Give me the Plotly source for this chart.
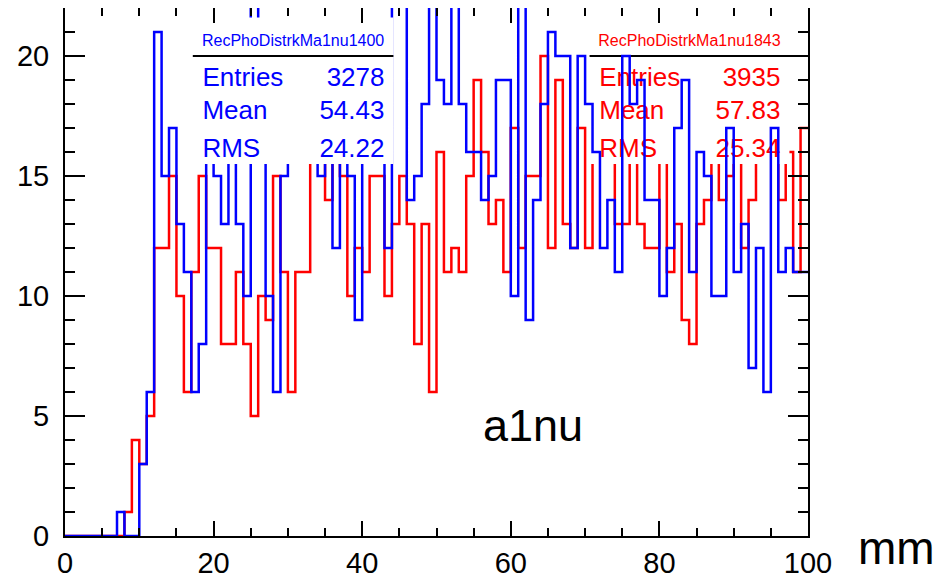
import plotly.graph_objects as go

# bin edges 0..100, 100 bins of width 1
bin_edges = list(range(0, 101))

# blue: RecPhoDistrkMa1nu1400 (bins hidden by the stats box estimated)
blue_counts = [
    0, 0, 0, 0, 0, 0, 0, 1, 0, 0,        # 0-9
    3, 6, 21, 15, 17, 13, 11, 6, 8, 17,   # 10-19
    15, 13, 16, 13, 10, 23, 18, 10, 6, 15,  # 20-29
    17, 16, 18, 17, 15, 16, 12, 17, 15, 9,  # 30-39
    18, 16, 17, 12, 23, 23, 14, 15, 18, 23, # 40-49
    19, 18, 23, 18, 16, 16, 14, 15, 19, 19, # 50-59
    10, 23, 9, 14, 18, 21, 20, 20, 12, 20,  # 60-69
    18, 16, 12, 14, 11, 20, 18, 19, 14, 14, # 70-79
    10, 12, 17, 19, 11, 16, 15, 10, 10, 17, # 80-89
    11, 13, 7, 12, 6, 17, 11, 12, 11, 11,   # 90-99
]

# red: RecPhoDistrkMa1nu1843
red_counts = [
    0, 0, 0, 0, 0, 0, 0, 0, 1, 4,         # 0-9
    3, 5, 12, 12, 15, 10, 6, 11, 15, 12,  # 10-19
    12, 8, 8, 11, 8, 5, 10, 9, 15, 11,    # 20-29
    6, 11, 11, 16, 17, 14, 16, 15, 10, 12, # 30-39
    11, 15, 15, 10, 13, 15, 13, 8, 13, 6,  # 40-49
    16, 11, 12, 11, 15, 19, 16, 13, 14, 11, # 50-59
    17, 12, 15, 15, 20, 12, 19, 13, 12, 17, # 60-69
    12, 16, 17, 16, 13, 13, 17, 13, 12, 12, # 70-79
    16, 11, 13, 9, 8, 13, 14, 16, 14, 15,  # 80-89
    16, 12, 14, 16, 17, 16, 14, 16, 11, 17, # 90-99
]

blue_stats_title = "RecPhoDistrkMa1nu1400"
red_stats_title = "RecPhoDistrkMa1nu1843"
stat_names = ["Entries", "Mean", "RMS"]
blue_stat_values = ["3278", "54.43", "24.22"]
red_stat_values = ["3935", "57.83", "25.34"]

x_ticks = [0, 20, 40, 60, 80, 100]
y_ticks = [0, 5, 10, 15, 20]

BLUE = "#0000ff"
RED = "#ff0000"
FONT = "Liberation Sans, Arial, sans-serif"


def step(counts):
    return bin_edges, counts + [counts[-1]]


def stats_box(x0, x1, title, values, color, name):
    y0, y1, yline = 15.5, 21.6, 20.0
    rows_y = [19.03, 17.65, 16.07]
    tr = []
    tr.append(go.Scatter(x=[x0, x1, x1, x0, x0], y=[y0, y0, y1, y1, y0],
                         fill="toself", fillcolor="white", mode="none",
                         hoverinfo="skip", showlegend=False, name=name + "box"))
    tr.append(go.Scatter(x=[x0, x1], y=[yline, yline], mode="lines",
                         line=dict(color="black", width=2), hoverinfo="skip",
                         showlegend=False))
    tr.append(go.Scatter(x=[(x0 + x1) / 2], y=[20.6], mode="text", text=[title],
                         textposition="middle center",
                         textfont=dict(family=FONT, size=16, color=color),
                         hoverinfo="skip", showlegend=False))
    tr.append(go.Scatter(x=[x0 + 1.3] * 3, y=rows_y, mode="text", text=stat_names,
                         textposition="middle right",
                         textfont=dict(family=FONT, size=26, color=color),
                         hoverinfo="skip", showlegend=False))
    tr.append(go.Scatter(x=[x1 - 1.2] * 3, y=rows_y, mode="text", text=values,
                         textposition="middle left",
                         textfont=dict(family=FONT, size=26, color=color),
                         hoverinfo="skip", showlegend=False))
    return tr


fig = go.Figure()
rx, ry = step(red_counts)
fig.add_trace(go.Scatter(x=rx, y=ry, mode="lines", line=dict(color=RED, width=2.5, shape="hv"),
                         showlegend=False, name="red"))
for t in stats_box(70.6, 97.5, red_stats_title, red_stat_values, RED, "red"):
    fig.add_trace(t)
bx, by = step(blue_counts)
fig.add_trace(go.Scatter(x=bx, y=by, mode="lines", line=dict(color=BLUE, width=2.5, shape="hv"),
                         showlegend=False, name="blue"))
for t in stats_box(17.2, 44.2, blue_stats_title, blue_stat_values, BLUE, "blue"):
    fig.add_trace(t)
# invisible trace to materialise the mirrored (top/right) tick axes
fig.add_trace(go.Scatter(x=[None], y=[None], xaxis="x2", yaxis="y2", showlegend=False,
                         hoverinfo="skip"))

fig.add_annotation(x=63, y=4.6, xref="x", yref="y", text="a1nu", showarrow=False,
                   font=dict(family=FONT, size=45, color="black"))
fig.add_annotation(x=(937 - 65) / 743, y=-0.023, xref="paper", yref="paper", text="mm",
                   showarrow=False, xanchor="right", yanchor="middle",
                   font=dict(family=FONT, size=46, color="black"))

line_common = dict(showgrid=False, zeroline=False, showline=True, linecolor="black",
                   linewidth=2, ticks="inside", tickcolor="black", tickwidth=2,
                   automargin=False)
tickfont = dict(family=FONT, size=29, color="black")
fig.update_layout(
    xaxis=dict(range=[0, 100], tickvals=x_ticks, ticklen=15, tickfont=tickfont,
               minor=dict(dtick=5, ticks="inside", ticklen=8, tickcolor="black", tickwidth=2),
               ticklabelstandoff=0, **line_common),
    yaxis=dict(range=[0, 22], tickvals=y_ticks, ticklen=20, tickfont=tickfont,
               minor=dict(dtick=1, ticks="inside", ticklen=10, tickcolor="black", tickwidth=2),
               ticklabelstandoff=8, **line_common),
    xaxis2=dict(range=[0, 100], tickvals=x_ticks, ticklen=15, overlaying="x", side="top",
                showticklabels=False,
                minor=dict(dtick=5, ticks="inside", ticklen=8, tickcolor="black", tickwidth=2),
                **line_common),
    yaxis2=dict(range=[0, 22], tickvals=y_ticks, ticklen=20, overlaying="y", side="right",
                showticklabels=False,
                minor=dict(dtick=1, ticks="inside", ticklen=10, tickcolor="black", tickwidth=2),
                **line_common),
    # the page body adds an 8 px offset, so the figure is 8 px smaller and margins shifted
    width=935, height=570, margin=dict(l=57, r=135, t=0, b=42),
    plot_bgcolor="white", paper_bgcolor="white", showlegend=False,
)

fig.write_html("out.html")
